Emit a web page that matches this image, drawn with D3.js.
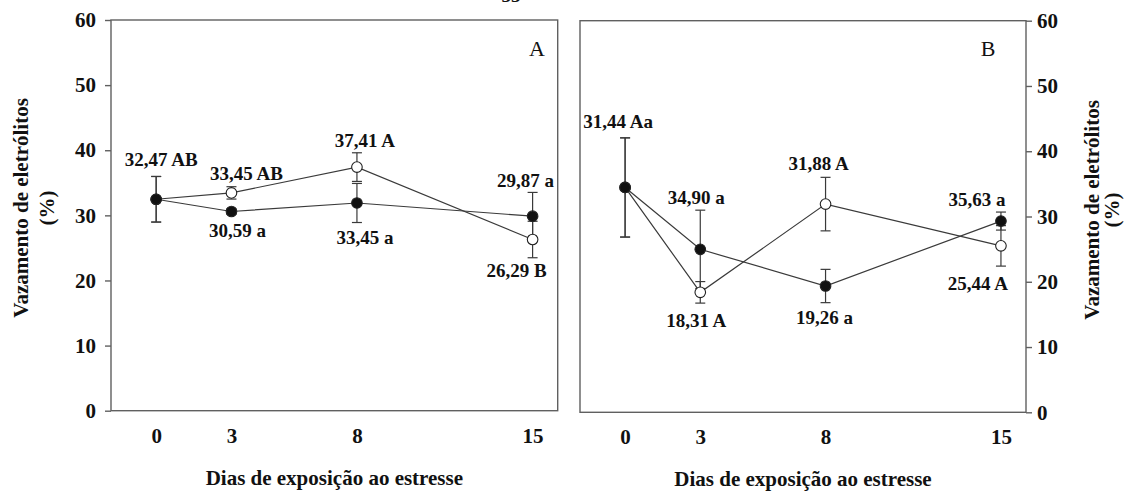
<!DOCTYPE html>
<html>
<head>
<meta charset="utf-8">
<script src="https://cdn.jsdelivr.net/npm/d3@7"></script>
<style>
  body { margin: 0; background: #fff; }
  svg { display: block; }
  text { font-family: "Liberation Serif", "DejaVu Serif", serif; fill: #111; }
  .bold { font-weight: bold; }
</style>
</head>
<body>
<div class="canva"></div>
<script>
// data
const days = [0, 3, 8, 15];
const yTicks = [0, 10, 20, 30, 40, 50, 60];

// panel A
const openA = [32.47, 33.45, 37.41, 26.29];
const openAErr = [3.5, 0.95, 2.2, 2.8];
const filledA = [32.47, 30.59, 31.9, 29.87];
const filledAErr = [3.5, 0.45, 3.0, 3.65];
const labelsA = ["32,47 AB", "33,45 AB", "37,41 A", "29,87 a", "30,59 a", "33,45 a", "26,29 B"];

// panel B
const openB = [34.45, 18.38, 31.9, 25.5];
const openBErr = [7.6, 1.65, 4.1, 3.1];
const filledB = [34.45, 24.97, 19.35, 29.3];
const filledBErr = [7.6, 6.0, 2.55, 1.38];
const labelsB = ["31,44 Aa", "34,90 a", "31,88 A", "35,63 a", "18,31 A", "19,26 a", "25,44 A"];

const yTitle = ["Vazamento de eletrólitos", "(%)"];
const xTitle = "Dias de exposição ao estresse";

const svg = d3.select(".canva").append("svg")
  .attr("width", 1124)
  .attr("height", 492);

// page number cut off at the top
svg.append("text").attr("class", "bold")
  .attr("x", 511).attr("y", 2)
  .attr("text-anchor", "middle")
  .style("font-size", "19px")
  .text("33");

// label placement: [series, dayIndex, dx, dy]
const placeA = [["o", 0, 5, -40], ["o", 1, 15, -19], ["o", 2, 8, -27], ["f", 3, -7, -36],
                ["f", 1, 6, 19], ["f", 2, 8, 35], ["o", 3, -16, 31]];
const placeB = [["o", 0, -7, -66], ["f", 1, -4, -52], ["o", 2, -7, -41], ["f", 3, -24, -22],
                ["o", 1, -4, 28], ["f", 2, -1, 31], ["o", 3, -23, 38]];

function drawPanel(p) {
  const x = d3.scaleLinear().domain([-1.8, 16]).range([p.left, p.right]);
  const y = d3.scaleLinear().domain([0, 60]).range([p.bottom, p.top]);
  const g = svg.append("g");

  // frame
  g.append("rect")
    .attr("x", p.left).attr("y", p.top)
    .attr("width", p.right - p.left).attr("height", p.bottom - p.top)
    .attr("fill", "none").attr("stroke", "#606060").attr("stroke-width", 1.4);

  // y axis
  const yAxis = (p.side === "left" ? d3.axisLeft(y) : d3.axisRight(y))
    .tickValues(yTicks).tickSize(6).tickPadding(p.side === "left" ? 9 : 5);
  const ya = g.append("g")
    .attr("transform", `translate(${p.side === "left" ? p.left : p.right},0)`)
    .call(yAxis);
  ya.select(".domain").remove();
  ya.selectAll("line").attr("stroke", "#606060").attr("stroke-width", 1.4);
  ya.selectAll("text").attr("class", "bold").style("font-size", "21px")
    .style("font-family", "Liberation Serif").attr("fill", "#111");

  // x axis (labels only)
  const xa = g.append("g")
    .attr("transform", `translate(0,${p.bottom})`)
    .call(d3.axisBottom(x).tickValues(days).tickSize(0).tickPadding(17));
  xa.select(".domain").remove();
  xa.selectAll("text").attr("class", "bold").style("font-size", "21px")
    .style("font-family", "Liberation Serif").attr("fill", "#111");

  // axis titles
  g.append("text").attr("class", "bold")
    .attr("x", (p.left + p.right) / 2).attr("y", p.xTitleY)
    .attr("text-anchor", "middle").attr("dominant-baseline", "central")
    .style("font-size", "21px")
    .text(xTitle);

  yTitle.forEach((t, i) => {
    g.append("text").attr("class", "bold")
      .attr("transform", `translate(${p.yTitleX[i]},${p.yTitleY}) rotate(-90)`)
      .attr("text-anchor", "middle").attr("dominant-baseline", "central")
      .style("font-size", "21px")
      .text(t);
  });

  // panel letter
  g.append("text")
    .attr("x", p.letterX).attr("y", 48)
    .attr("text-anchor", "middle").attr("dominant-baseline", "central")
    .style("font-size", "22px")
    .text(p.letter);

  const series = [
    {key: "o", vals: p.open, err: p.openErr, fill: "#fff"},
    {key: "f", vals: p.filled, err: p.filledErr, fill: "#111"}
  ];

  const line = d3.line()
    .x((d, i) => x(days[i]))
    .y(d => y(d));

  series.forEach(s => {
    g.append("path")
      .datum(s.vals)
      .attr("d", line)
      .attr("fill", "none")
      .attr("stroke", "#3a3a3a")
      .attr("stroke-width", 1.2);
  });

  // error bars
  series.forEach(s => {
    const eb = g.append("g").attr("stroke", "#3a3a3a").attr("stroke-width", 1.2);
    s.vals.forEach((v, i) => {
      const cx = x(days[i]);
      const hi = y(v + s.err[i]), lo = y(v - s.err[i]);
      eb.append("line").attr("x1", cx).attr("x2", cx).attr("y1", hi).attr("y2", lo);
      eb.append("line").attr("x1", cx - 5).attr("x2", cx + 5).attr("y1", hi).attr("y2", hi);
      eb.append("line").attr("x1", cx - 5).attr("x2", cx + 5).attr("y1", lo).attr("y2", lo);
    });
  });

  // points
  series.forEach(s => {
    g.selectAll(null)
      .data(s.vals)
      .enter()
      .append("circle")
      .attr("cx", (d, i) => x(days[i]))
      .attr("cy", d => y(d))
      .attr("r", 5.3)
      .attr("fill", s.fill)
      .attr("stroke", "#222")
      .attr("stroke-width", 1.1);
  });

  // value labels
  p.labels.forEach((t, k) => {
    const [key, i, dx, dy] = p.place[k];
    const v = key === "o" ? p.open[i] : p.filled[i];
    g.append("text").attr("class", "bold")
      .attr("x", x(days[i]) + dx).attr("y", y(v) + dy)
      .attr("text-anchor", "middle").attr("dominant-baseline", "central")
      .style("font-size", "19px")
      .text(t);
  });
}

drawPanel({
  left: 111, right: 557.7, top: 20, bottom: 410.7, side: "left",
  open: openA, openErr: openAErr, filled: filledA, filledErr: filledAErr,
  labels: labelsA, place: placeA, letter: "A", letterX: 537,
  xTitleY: 478, yTitleX: [21, 47], yTitleY: 208
});

drawPanel({
  left: 580, right: 1026, top: 20.7, bottom: 412.3, side: "right",
  open: openB, openErr: openBErr, filled: filledB, filledErr: filledBErr,
  labels: labelsB, place: placeB, letter: "B", letterX: 988,
  xTitleY: 479, yTitleX: [1092, 1112], yTitleY: 210
});
</script>
</body>
</html>
